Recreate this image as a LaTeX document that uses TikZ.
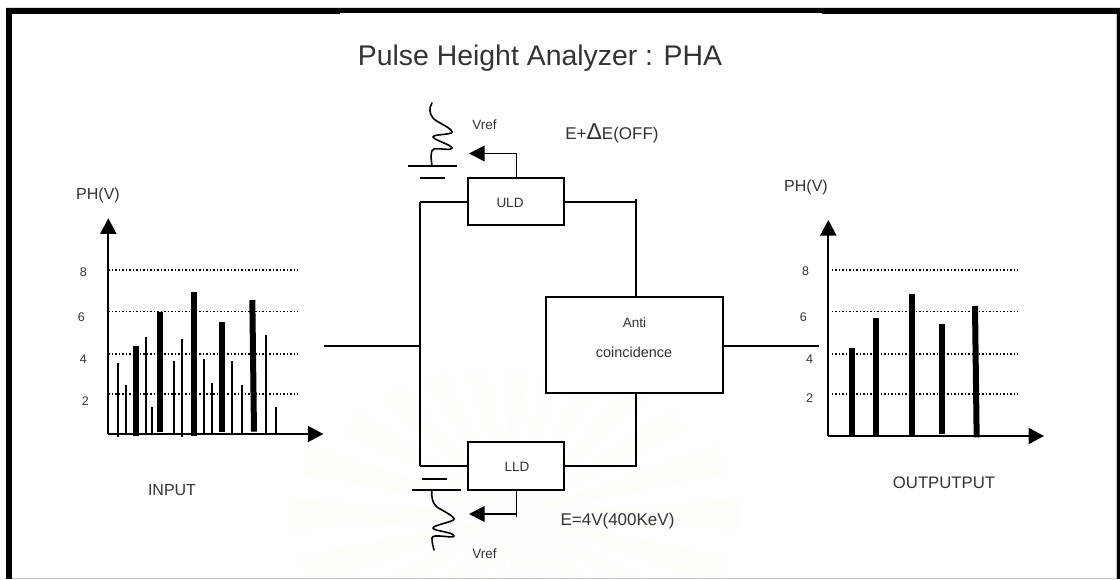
\documentclass[tikz,border=0pt]{standalone}
\usepackage{fontspec}
\setmainfont{Liberation Sans}
\usetikzlibrary{arrows.meta}
\definecolor{ink}{HTML}{333333}
\definecolor{ray}{HTML}{FFFEFA}
\newcommand{\fs}[1]{\fontsize{#1}{#1}\selectfont}
\tikzset{
  x=1pt,y=-1pt,
  wire/.style={draw=black,line width=1.9pt},
  blockbox/.style={draw=black,line width=2pt,fill=white,inner sep=0pt},
  lbl/.style={text=ink,inner sep=0pt,anchor=center},
  headarrow/.style={line width=1.9pt,-{Triangle[length=15.5pt,width=15.5pt]}},
  axisline/.style={line width=2pt,-{Triangle[length=15.5pt,width=16pt]}},
  guide/.style={line width=1.5pt,dash pattern=on 1.5pt off 2pt,black},
  thinbar/.style={line width=2pt,black},
  thickbar/.style={line width=6pt,black},
  zoomed/.style={x=0.33333pt,y=-0.33333pt},
}
\begin{document}
\begin{tikzpicture}
\useasboundingbox (0,0) rectangle (1120,579);
\fill[white] (0,0) rectangle (1120,579);
% faint watermark rays
\begin{scope}
  \clip (0,330) rectangle (1120,579);
  \foreach \a/\r in {0/225,15/215,30/190,45/175,60/160,75/150,90/145,105/150,120/160,135/175,150/190,165/215,180/225,-15/220,-30/200,-45/190,-60/185,-75/180,-90/180,-105/180,-120/185,-135/190,-150/200,-165/220}
    \fill[ray] (515,515) -- ({515+\r*cos(\a-4)},{515-\r*sin(\a-4)}) -- ({515+\r*cos(\a+4)},{515-\r*sin(\a+4)}) -- cycle;
\end{scope}
% frame
\fill[black] (6,8) rectangle (1120,14);
\fill[white] (340,12.8) rectangle (822,14.2);
\fill[black] (6,8) rectangle (12,579);
\fill[black] (1117,8) rectangle (1120,579);
\fill[black!22] (12,577.5) rectangle (1117,579);
\fill[black!22] (1115.5,14) rectangle (1117,577.5);
\fill[black!12] (6,7) rectangle (1120,8);

% title
\node[lbl] (title) at (540,58.5) {\fs{28.4}Pulse Height Analyzer : PHA};

% blocks
\node[blockbox,minimum width=96pt,minimum height=47pt] (uld) at (516,201.5) {};
\node[blockbox,minimum width=96pt,minimum height=48pt] (lld) at (516,466) {};
\node[blockbox,minimum width=177pt,minimum height=96pt] (anti) at (634.5,345) {};
\node[lbl] (uldt) at (510,203) {\fs{13.5}ULD};
\node[lbl] (lldt) at (517,467) {\fs{13.5}LLD};
\node[lbl] (antia) at (634.5,323) {\fs{13.5}Anti};
\node[lbl] (antic) at (634,352.5) {\fs{14.4}coincidence};

% junctions
\coordinate (inL) at (324,346);
\coordinate (jIn) at (420,346);
\coordinate (outR) at (819,346);
\coordinate (upL) at (420,202);
\coordinate (upR) at (636,202);
\coordinate (upRtop) at (636,199);
\coordinate (loL) at (420,466);
\coordinate (loR) at (636,466);
\coordinate (antiT) at (636,297);
\coordinate (antiB) at (636,393);
\coordinate (antiR) at (723,346);

\draw[wire] (inL) -- (jIn);
\draw[wire] (upL) -- (loL);
\draw[wire] (upL) -- (uld.west |- upL);
\draw[wire] (loL) -- (lld.west |- loL);
\draw[wire] (uld.east |- upR) -- (upR);
\draw[wire] (upRtop) -- (antiT);
\draw[wire] (lld.east |- loR) -- (loR) -- (antiB);
\draw[wire] (antiR) -- (outR);

% reference arrows
\coordinate (uldTap) at (516.5,178);
\coordinate (uldBend) at (516.5,153.5);
\coordinate (uldTip) at (469,153.5);
\coordinate (lldTap) at (516.5,490);
\coordinate (lldTick) at (516.5,516.5);
\coordinate (lldBend) at (516.5,514);
\coordinate (lldTip) at (469,514);
\draw[headarrow] (uldTap) -- (uldBend) -- (uldTip);
\draw[wire] (lldTap) -- (lldTick);
\draw[headarrow] (lldBend) -- (lldTip);

% upper battery + coil
\draw[line width=1.9pt] (408,166) -- (457,166);
\draw[line width=1.9pt] (420,178) -- (445,178);
\draw[line width=1.6pt,line cap=round] (432,166)
  .. controls (431,158) and (430,150) .. (434,149)
  .. controls (440,148) and (452,151) .. (452,148)
  .. controls (452,145) and (434,140) .. (433,137)
  .. controls (433,134) and (452,135) .. (452,132)
  .. controls (452,128) and (436,122) .. (433,118)
  .. controls (429,113) and (429,108) .. (432,103);

% lower battery + coil
\draw[line width=1.9pt] (412,490) -- (461,490);
\draw[line width=1.9pt] (422,479) -- (447,479);
\draw[line width=1.6pt,line cap=round] (432,490)
  .. controls (431,498) and (433,504) .. (437,507)
  .. controls (443,511) and (454,516) .. (454,519)
  .. controls (454,522) and (433,525) .. (433,528)
  .. controls (433,531) and (454,532) .. (454,536)
  .. controls (454,539) and (432,533) .. (432,538)
  .. controls (432,543) and (433,546) .. (434,550);

% labels centre
\node[lbl] (vrefU) at (484.5,125) {\fs{13.5}Vref};
\node[lbl] (vrefL) at (484.5,554) {\fs{13.5}Vref};
\node[lbl] (eoff) at (612,133) {\fs{17}E+{\fs{23}Δ}E(OFF)};
\node[lbl] (eon) at (617.5,521) {\fs{17}E=4V(400KeV)};
\node[lbl] (input) at (172,490) {\fs{16}INPUT};
\node[lbl] (output) at (944,483) {\fs{16.7}OUTPUTPUT};

% left chart
\begin{scope}[shift={(50pt,-170pt)},zoomed]
  \coordinate (lo) at (175,792);
  \coordinate (ly) at (175,145);
  \coordinate (lx) at (820,792);
  \foreach \y in {300,425,552,672} \draw[guide] (175,\y) -- (745,\y);
  \foreach \xx/\t/\b in {205/580/800,229/645/792,289/502/792,307/712/792,373/574/792,397/508/800,463/568/792,487/640/792,547/574/792,577/645/792,649/496/792,679/712/792}
    \draw[thinbar] (\xx,\t) -- (\xx,\b);
  \foreach \xx/\t/\b in {258/528/797,331/425/785,433/366/797,517/456/785}
    \draw[thickbar] (\xx,\t) -- (\xx,\b);
  \draw[thickbar] (607,390) -- (612,785);
  \draw[axisline] (lo) -- (ly);
  \draw[axisline] (lo) -- (lx);
  \node[lbl] (ph1) at (144,75) {\fs{16}PH(V)};
  \node[lbl] (l8) at (100,306) {\fs{12.5}8};
  \node[lbl] (l6) at (94,441) {\fs{12.5}6};
  \node[lbl] (l4) at (100,568) {\fs{12.5}4};
  \node[lbl] (l2) at (106,692) {\fs{12.5}2};
\end{scope}

% right chart
\begin{scope}[shift={(770pt,-170pt)},zoomed]
  \coordinate (ro) at (175,798);
  \coordinate (ry) at (175,150);
  \coordinate (rx) at (822,798);
  \foreach \y in {300,425,552,672} \draw[guide] (185,\y) -- (745,\y);
  \foreach \xx/\t/\b in {247/535/802,319/444/802,427/372/802,517/462/791}
    \draw[thickbar] (\xx,\t) -- (\xx,\b);
  \draw[thickbar] (615,408) -- (620,802);
  \draw[axisline] (ro) -- (ry);
  \draw[axisline] (ro) -- (rx);
  \node[lbl] (ph2) at (108,52) {\fs{16}PH(V)};
  \node[lbl] (r8) at (107,303) {\fs{12.5}8};
  \node[lbl] (r6) at (100,441) {\fs{12.5}6};
  \node[lbl] (r4) at (119,568) {\fs{12.5}4};
  \node[lbl] (r2) at (119,684) {\fs{12.5}2};
\end{scope}
\end{tikzpicture}
\end{document}
